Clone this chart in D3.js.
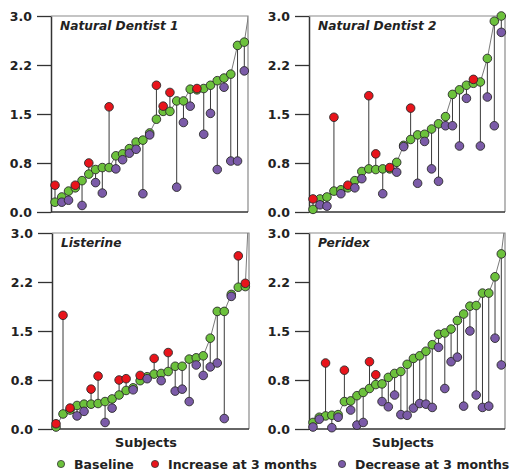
<!DOCTYPE html>
<html>
<head>
<meta charset="utf-8">
<title>Baseline vs 3 months</title>
<script src="https://cdnjs.cloudflare.com/ajax/libs/d3/7.8.5/d3.min.js"></script>
<style>
  body { margin: 0; background: #fff; }
  text { font-family: "DejaVu Sans", sans-serif; font-weight: bold; fill: #222; }
</style>
</head>
<body>
<svg id="chart" width="512" height="474"></svg>
<script>
// values; last baseline of some panels lies past the right edge
var panelNames = ["Natural Dentist 1", "Natural Dentist 2", "Listerine", "Peridex"];

var nd1Base   = [0.15,0.23,0.32,0.37,0.48,0.58,0.65,0.68,0.68,0.86,0.89,0.97,1.07,1.10,1.21,1.42,1.54,1.54,1.70,1.70,1.88,1.87,1.89,1.94,2.01,2.05,2.11,2.55,2.60,3.27];
var nd1Month3 = [0.41,0.15,0.18,0.41,0.10,0.75,0.45,0.29,1.61,0.66,0.80,0.90,0.96,0.28,1.18,1.94,1.62,1.83,0.38,1.37,1.62,1.89,1.19,1.51,0.65,1.91,0.78,0.78,2.16,null];

var nd2Base   = [0.04,0.20,0.23,0.32,0.34,0.37,0.48,0.62,0.66,0.65,0.66,0.66,0.76,1.02,1.11,1.18,1.19,1.27,1.35,1.46,1.80,1.87,1.94,1.97,1.99,2.35,2.92,3.00];
var nd2Month3 = [0.20,0.11,0.09,1.45,0.28,0.41,0.37,0.51,1.78,0.89,0.28,0.68,0.61,1.00,1.59,0.44,1.08,0.66,0.47,1.32,1.32,1.01,1.74,2.03,1.01,1.76,1.32,2.75];

var lisBase   = [0.03,0.23,0.29,0.36,0.38,0.38,0.39,0.42,0.46,0.52,0.59,0.63,0.74,0.80,0.84,0.85,0.88,0.96,0.96,1.07,1.09,1.12,1.39,1.80,1.80,2.06,2.17,2.18,4.60];
var lisMonth3 = [0.08,1.74,0.32,0.20,0.27,0.61,0.81,0.10,0.32,0.75,0.77,0.60,0.82,0.77,1.08,0.74,1.17,0.58,0.61,0.42,0.98,0.82,0.95,1.01,0.16,2.03,2.65,2.23,null];

var perBase   = [0.10,0.18,0.20,0.21,0.22,0.42,0.43,0.51,0.56,0.62,0.68,0.69,0.79,0.85,0.88,0.99,1.08,1.12,1.19,1.29,1.45,1.47,1.53,1.66,1.76,1.88,1.89,2.08,2.08,2.33,2.68,3.47];
var perMonth3 = [0.03,0.15,1.01,0.02,0.18,0.90,0.29,0.06,0.10,1.03,0.83,0.42,0.34,0.52,0.22,0.21,0.32,0.39,0.38,0.33,1.25,0.62,1.03,1.10,0.35,1.50,0.52,0.33,0.35,1.39,0.98,null];

var yTicks = [0, 0.75, 1.5, 2.25, 3.0];
var yTickLabels = ["0.0", "0.8", "1.5", "2.2", "3.0"];
var legendLabels = ["Baseline", "Increase at 3 months", "Decrease at 3 months"];

var green = "#6cc13c", red = "#e8141b", purple = "#7b5ba8";
var legendColors = [green, red, purple];

var panels = [
  {name: panelNames[0], base: nd1Base, m3: nd1Month3, box: {l: 51, t: 16, r: 248, b: 212}},
  {name: panelNames[1], base: nd2Base, m3: nd2Month3, box: {l: 309, t: 16, r: 505, b: 212}},
  {name: panelNames[2], base: lisBase, m3: lisMonth3, box: {l: 52, t: 233, r: 249, b: 429}},
  {name: panelNames[3], base: perBase, m3: perMonth3, box: {l: 309, t: 233, r: 505, b: 429}}
];

var svg = d3.select("#chart");

panels.forEach(function(p, k) {
  var b = p.box;
  var n = p.m3.filter(function(v) { return v != null; }).length;
  var x = d3.scaleLinear().domain([0, n - 1]).range([b.l + 4, b.r - 3.7]);
  var y = d3.scaleLinear().domain([0, 3]).range([b.b, b.t]);

  var g = svg.append("g");

  svg.append("clipPath").attr("id", "clip" + k)
    .append("rect").attr("x", b.l).attr("y", b.t).attr("width", b.r - b.l).attr("height", b.b - b.t);

  // top / right frame
  g.append("path")
    .attr("d", "M" + b.l + "," + b.t + "H" + b.r + "V" + b.b)
    .attr("fill", "none").attr("stroke", "#8a8a8a").attr("stroke-width", 1.2);

  var yAxis = g.append("g").attr("transform", "translate(" + b.l + ",0)")
    .call(d3.axisLeft(y).tickValues(yTicks)
      .tickFormat(function(d, i) { return yTickLabels[i]; })
      .tickSize(14).tickPadding(5).tickSizeOuter(0));
  yAxis.select(".domain").attr("stroke", "#333").attr("stroke-width", 1.5);
  yAxis.selectAll(".tick line").attr("stroke", "#333").attr("stroke-width", 1.3);
  yAxis.selectAll(".tick text").style("font-size", "12.5px").attr("fill", "#222");

  var xAxis = g.append("g").attr("transform", "translate(0," + b.b + ")")
    .call(d3.axisBottom(x).tickValues([]).tickSizeOuter(0));
  xAxis.select(".domain").attr("d", "M" + b.l + ",0H" + b.r)
    .attr("stroke", "#333").attr("stroke-width", 1.5);

  var rows = p.base.map(function(v, i) { return {i: i, base: v, m3: p.m3[i]}; });
  var done = rows.filter(function(d) { return d.m3 != null; });

  // baseline trace
  g.append("path")
    .datum(rows)
    .attr("clip-path", "url(#clip" + k + ")")
    .attr("fill", "none").attr("stroke", "#7a7a7a").attr("stroke-width", 1)
    .attr("d", d3.line().x(function(d) { return x(d.i); }).y(function(d) { return y(d.base); }));

  // change stems
  g.selectAll(".stem").data(done).enter().append("line")
    .attr("x1", function(d) { return x(d.i); }).attr("x2", function(d) { return x(d.i); })
    .attr("y1", function(d) { return y(d.base); }).attr("y2", function(d) { return y(d.m3); })
    .attr("stroke", "#3a3a3a").attr("stroke-width", 1);

  g.selectAll(".basept").data(done).enter().append("circle")
    .attr("cx", function(d) { return x(d.i); }).attr("cy", function(d) { return y(d.base); })
    .attr("r", 4.3).attr("fill", green).attr("stroke", "#2a2a2a").attr("stroke-width", 0.9);

  g.selectAll(".m3pt").data(done).enter().append("circle")
    .attr("cx", function(d) { return x(d.i); }).attr("cy", function(d) { return y(d.m3); })
    .attr("r", 4.3).attr("fill", function(d) { return d.m3 > d.base ? red : purple; })
    .attr("stroke", "#2a2a2a").attr("stroke-width", 0.9);

  g.append("text")
    .attr("x", b.l + 9).attr("y", b.t + 14)
    .style("font-size", "12.2px").style("font-style", "italic")
    .text(p.name);

  if (k >= 2) {
    g.append("text")
      .attr("x", b.l + 94).attr("y", 447)
      .attr("text-anchor", "middle").style("font-size", "12.8px")
      .text("Subjects");
  }
});

// legend
var legendX = [61, 155, 342];
var lg = svg.append("g");
legendLabels.forEach(function(l, i) {
  lg.append("circle").attr("cx", legendX[i]).attr("cy", 464).attr("r", 3.6)
    .attr("fill", legendColors[i]).attr("stroke", "#333").attr("stroke-width", 0.8);
  lg.append("text").attr("x", legendX[i] + 13).attr("y", 469)
    .style("font-size", "12.5px").text(l);
});
</script>
</body>
</html>
